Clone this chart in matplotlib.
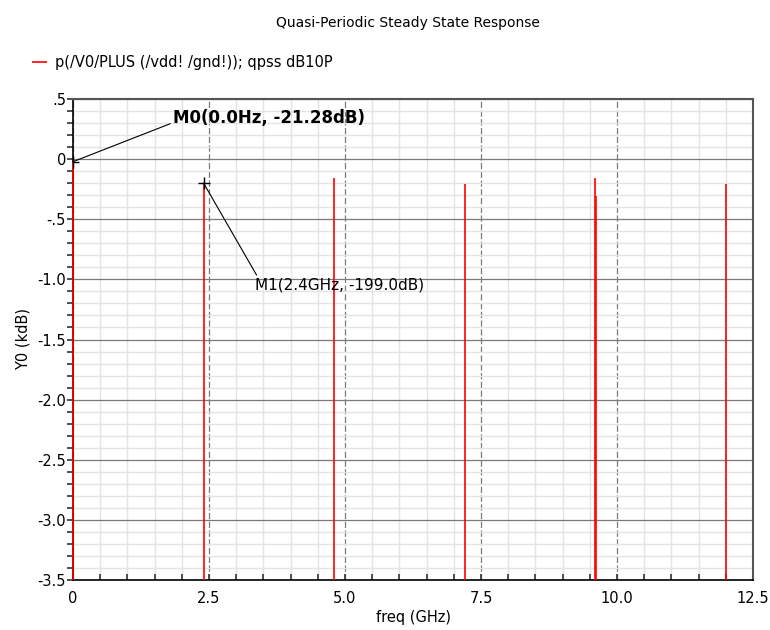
import matplotlib
matplotlib.use("Agg")
import matplotlib.pyplot as plt
from matplotlib.ticker import MultipleLocator, FixedLocator, FixedFormatter

# Spectral lines of the QPSS response (frequency in GHz, level in dB)
freq_ghz = [0.0, 2.4, 4.8, 7.2, 9.6, 9.615, 12.0]
level_db = [-21.28, -199.0, -153.0, -208.0, -161.0, -306.0, -208.0]

x_ticks = [0.0, 2.5, 5.0, 7.5, 10.0, 12.5]
x_tick_labels = ["0", "2.5", "5.0", "7.5", "10.0", "12.5"]
y_ticks = [0.5, 0.0, -0.5, -1.0, -1.5, -2.0, -2.5, -3.0, -3.5]
y_tick_labels = [".5", "0", "-.5", "-1.0", "-1.5", "-2.0", "-2.5", "-3.0", "-3.5"]

# Markers: frequency (GHz), level (dB), label text
marker_freq = [0.0, 2.4]
marker_db = [-21.28, -199.0]
marker_text = ["M0(0.0Hz, -21.28dB)", "M1(2.4GHz, -199.0dB)"]

plt.rcParams["font.family"] = ["DejaVu Sans"]
plt.rcParams["axes.unicode_minus"] = False

fig = plt.figure(figsize=(7.7, 6.3), dpi=100)
ax = fig.add_axes([73 / 770, 1 - 580 / 630, (753 - 73) / 770, (580 - 99) / 630])

ymin, ymax = -3.5, 0.5
ax.set_xlim(0, 12.5)
ax.set_ylim(ymin, ymax)

# grid: light minor lines, darker major lines (dashed verticals)
ax.xaxis.set_major_locator(FixedLocator(x_ticks))
ax.xaxis.set_major_formatter(FixedFormatter(x_tick_labels))
ax.yaxis.set_major_locator(FixedLocator(y_ticks))
ax.yaxis.set_major_formatter(FixedFormatter(y_tick_labels))
ax.xaxis.set_minor_locator(MultipleLocator(0.5))
ax.yaxis.set_minor_locator(MultipleLocator(0.1))
ax.grid(which="minor", color="#e4e4e4", lw=1.0, zorder=0)
ax.grid(which="major", axis="y", color="#7a7a7a", lw=0.9, zorder=0.5)
ax.grid(which="major", axis="x", color="#7a7a7a", lw=0.9, ls=(0, (5, 2)), zorder=0.5)
ax.set_axisbelow(True)

# spectrum lines in kdB
level_kdb = [v / 1000.0 for v in level_db]
ax.vlines(freq_ghz, ymin, level_kdb, colors="#ff0000", lw=1.2, zorder=3,
          clip_on=False, label="p(/V0/PLUS (/vdd! /gnd!)); qpss dB10P")

# markers with leader lines
mk_kdb = [v / 1000.0 for v in marker_db]
ax.plot(marker_freq, mk_kdb, ls="none", marker="+", ms=8, mew=1.0, color="black", zorder=4)
ax.annotate(marker_text[0], xy=(marker_freq[0], mk_kdb[0]), xytext=(1.84, 0.34),
            ha="left", va="center", fontsize=12, fontweight="bold", color="black",
            arrowprops=dict(arrowstyle="-", color="black", lw=0.8,
                            shrinkA=0, shrinkB=0, relpos=(0.01, 0.3)),
            zorder=5)
ax.annotate(marker_text[1], xy=(marker_freq[1], mk_kdb[1]), xytext=(3.35, -1.05),
            ha="left", va="center", fontsize=11, color="black",
            arrowprops=dict(arrowstyle="-", color="black", lw=0.8,
                            shrinkA=0, shrinkB=0, relpos=(0.02, 0.95)),
            zorder=5)

# spines and ticks
for side in ("left", "bottom"):
    ax.spines[side].set_color("black")
    ax.spines[side].set_linewidth(1.2)
for side in ("top", "right"):
    ax.spines[side].set_color("#555555")
    ax.spines[side].set_linewidth(1.5)
ax.tick_params(axis="y", which="both", direction="out", length=4, width=1.2,
               color="#333333", labelsize=10.5, pad=1)
ax.tick_params(axis="x", which="both", direction="in", length=4, width=1.2,
               color="#333333", labelsize=10.5, pad=8)

ax.set_xlabel("freq (GHz)", fontsize=10.5, labelpad=3)
ax.set_ylabel("Y0 (kdB)", fontsize=10.5, labelpad=5)

fig.text(408 / 770, 1 - 23 / 630, "Quasi-Periodic Steady State Response",
         ha="center", va="center", fontsize=10)
fig.legend(loc="center left", bbox_to_anchor=(0.034, 1 - 63 / 630), frameon=False,
           handlelength=1.0, handletextpad=0.6, fontsize=10.5, borderaxespad=0)

fig.savefig("out.png", dpi=100)
